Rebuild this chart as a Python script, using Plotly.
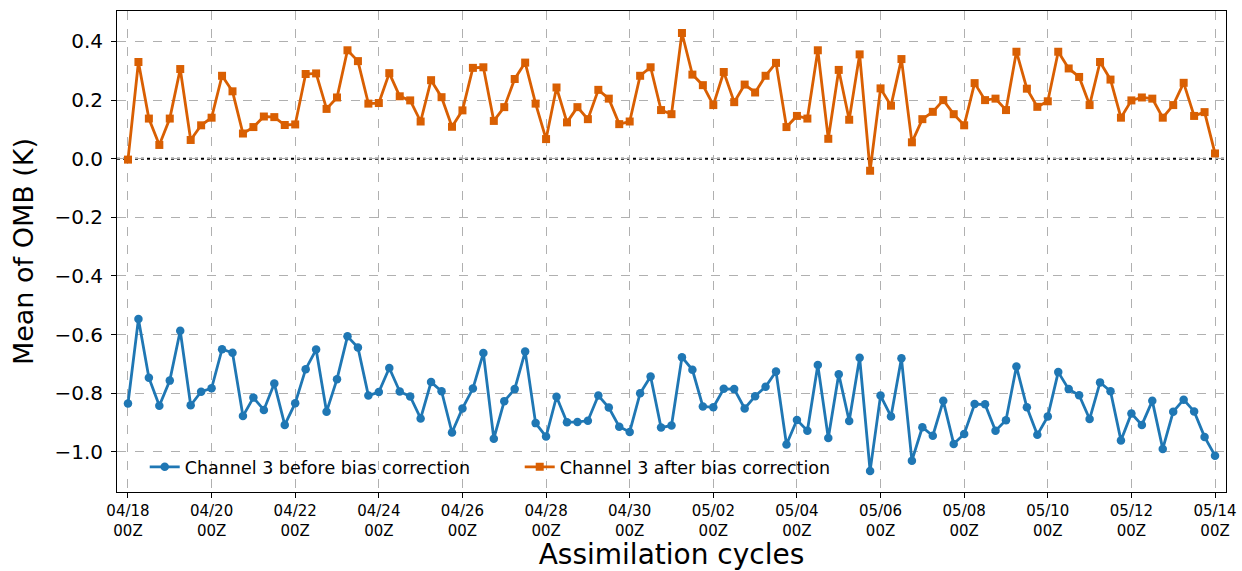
import pandas as pd
import plotly.graph_objects as go

# 6-hourly assimilation cycles, 04/18 00Z to 05/14 00Z
cycles = pd.date_range("2024-04-18 00:00", "2024-05-14 00:00", freq="6h")

before_bc = [
    -0.835, -0.547, -0.747, -0.843, -0.757, -0.587, -0.841, -0.795, -0.783, -0.650,
    -0.662, -0.878, -0.815, -0.857, -0.767, -0.908, -0.834, -0.718, -0.651, -0.863,
    -0.752, -0.606, -0.644, -0.808, -0.796, -0.714, -0.794, -0.811, -0.886, -0.762,
    -0.793, -0.934, -0.852, -0.784, -0.663, -0.955, -0.827, -0.786, -0.658, -0.902,
    -0.948, -0.812, -0.899, -0.898, -0.894, -0.808, -0.849, -0.914, -0.932, -0.800,
    -0.743, -0.917, -0.910, -0.677, -0.720, -0.845, -0.848, -0.785, -0.786, -0.852,
    -0.810, -0.778, -0.726, -0.975, -0.891, -0.928, -0.704, -0.953, -0.735, -0.895,
    -0.679, -1.065, -0.808, -0.879, -0.681, -1.030, -0.916, -0.945, -0.826, -0.973,
    -0.939, -0.837, -0.838, -0.928, -0.892, -0.709, -0.848, -0.942, -0.879, -0.728,
    -0.786, -0.807, -0.888, -0.763, -0.793, -0.961, -0.869, -0.908, -0.826, -0.990,
    -0.863, -0.822, -0.862, -0.949, -1.013,
]

after_bc = [
    -0.003, 0.330, 0.137, 0.047, 0.137, 0.306, 0.064, 0.114, 0.140, 0.283,
    0.230, 0.086, 0.108, 0.144, 0.142, 0.115, 0.117, 0.289, 0.291, 0.170,
    0.209, 0.370, 0.333, 0.188, 0.190, 0.292, 0.213, 0.199, 0.127, 0.268,
    0.210, 0.109, 0.165, 0.310, 0.312, 0.129, 0.176, 0.272, 0.328, 0.188,
    0.067, 0.243, 0.124, 0.176, 0.135, 0.235, 0.205, 0.118, 0.127, 0.283,
    0.312, 0.166, 0.152, 0.429, 0.287, 0.251, 0.183, 0.296, 0.193, 0.253,
    0.226, 0.283, 0.327, 0.108, 0.146, 0.137, 0.370, 0.068, 0.303, 0.133,
    0.356, -0.041, 0.240, 0.181, 0.340, 0.056, 0.135, 0.160, 0.200, 0.152,
    0.114, 0.258, 0.200, 0.205, 0.166, 0.365, 0.239, 0.177, 0.196, 0.365,
    0.308, 0.279, 0.183, 0.330, 0.270, 0.140, 0.199, 0.209, 0.205, 0.140,
    0.183, 0.259, 0.146, 0.159, 0.018,
]

tick_dates = pd.date_range("2024-04-18", "2024-05-14", freq="2D")
tick_text = [d.strftime("%m/%d") + "<br>00Z" for d in tick_dates]

y_tickvals = [0.4, 0.2, 0.0, -0.2, -0.4, -0.6, -0.8, -1.0]
y_ticktext = ["0.4", "0.2", "0.0", "\u22120.2", "\u22120.4", "\u22120.6", "\u22120.8", "\u22121.0"]

series_names = ["Channel 3 before bias correction", "Channel 3 after bias correction"]
colors = ["#1f77b4", "#d95f02"]

FONT = "DejaVu Sans"

fig = go.Figure()
fig.add_trace(go.Scatter(
    x=cycles, y=before_bc, mode="lines+markers", name=series_names[0],
    line=dict(color=colors[0], width=2.8),
    marker=dict(symbol="circle", size=8.5, color=colors[0]),
))
fig.add_trace(go.Scatter(
    x=cycles, y=after_bc, mode="lines+markers", name=series_names[1],
    line=dict(color=colors[1], width=2.8),
    marker=dict(symbol="square", size=8, color=colors[1]),
))

fig.add_shape(type="line", xref="paper", x0=0, x1=1, yref="y", y0=0, y1=0,
              line=dict(color="black", width=1.8, dash="dot"), layer="between")

x0 = cycles[0] - pd.Timedelta(hours=6.3)
x1 = cycles[-1] + pd.Timedelta(hours=6.3)

fig.update_layout(
    width=1242, height=571,
    margin=dict(l=117, r=16, t=11, b=79, autoexpand=False),
    paper_bgcolor="white", plot_bgcolor="white",
    font=dict(family=FONT, color="black"),
    showlegend=True,
    legend=dict(
        orientation="h", x=0.025, y=0.052, xanchor="left", yanchor="middle",
        bgcolor="rgba(0,0,0,0)", font=dict(size=17.5, family=FONT),
        entrywidth=330, entrywidthmode="pixels",
    ),
    xaxis=dict(
        range=[x0, x1], tickmode="array", tickvals=tick_dates, ticktext=tick_text,
        tickfont=dict(size=15), ticks="outside", ticklen=5, tickcolor="black",
        showline=True, linecolor="black", linewidth=1, mirror=True,
        showgrid=True, gridcolor="#b0b0b0", gridwidth=1, griddash="dash",
        zeroline=False, automargin=False,
        title=dict(text="Assimilation cycles", font=dict(size=28), standoff=9),
    ),
    yaxis=dict(
        range=[-1.137, 0.504], tickmode="array", tickvals=y_tickvals, ticktext=y_ticktext,
        tickfont=dict(size=20), ticks="outside", ticklen=5, tickcolor="black",
        ticklabelstandoff=4,
        showline=True, linecolor="black", linewidth=1, mirror=True,
        showgrid=True, gridcolor="#b0b0b0", gridwidth=1, griddash="dash",
        zeroline=False, automargin=False,
        title=dict(text="Mean of OMB (K)", font=dict(size=27), standoff=12),
    ),
)

fig.write_html("out.html")
